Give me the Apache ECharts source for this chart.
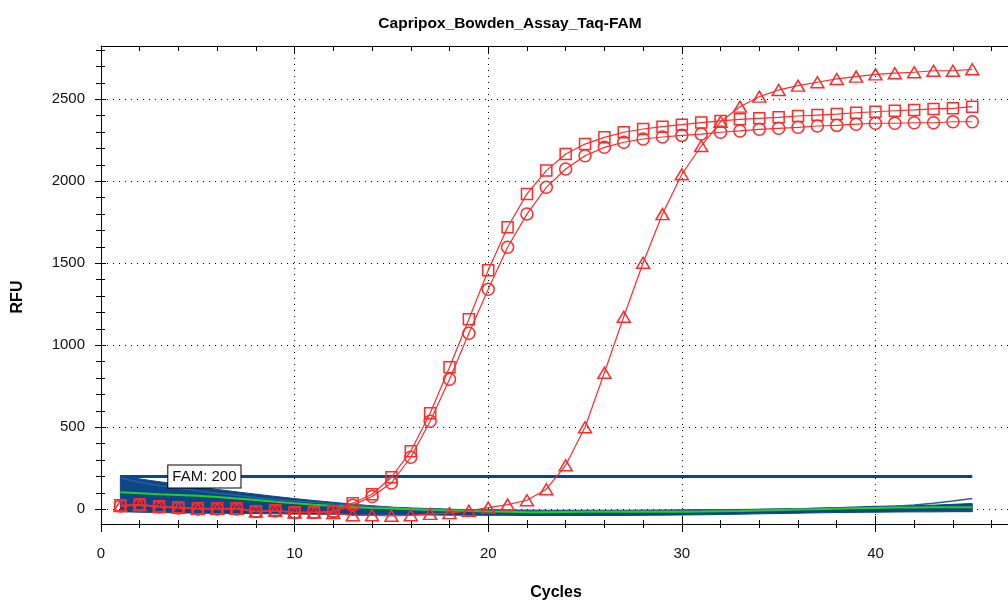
<!DOCTYPE html>
<html>
<head>
<meta charset="utf-8">
<script src="https://cdn.jsdelivr.net/npm/echarts@6/dist/echarts.min.js"></script>
<style>
  html, body { margin: 0; padding: 0; background: #fff; }
  #chart { width: 1008px; height: 602px; }
</style>
</head>
<body>
<div id="chart"></div>
<script>
// cycles 1..45
const cycles = [1,2,3,4,5,6,7,8,9,10,11,12,13,14,15,16,17,18,19,20,21,22,23,24,25,26,27,28,29,30,31,32,33,34,35,36,37,38,39,40,41,42,43,44,45];

// red sample curves (RFU)
const sampleSquare = [24,30,18,12,6,6,6,-12,-6,-18,-18,-12,37,91,195,354,585,866,1159,1457,1720,1923,2065,2166,2227,2268,2299,2319,2333,2345,2358,2368,2378,2384,2390,2398,2404,2410,2418,2424,2430,2435,2441,2445,2455];
const sampleCircle = [20,26,14,8,2,2,2,-14,-10,-20,-20,-16,25,78,160,317,537,793,1073,1341,1598,1800,1963,2075,2156,2207,2238,2258,2270,2280,2288,2299,2307,2317,2323,2329,2337,2341,2348,2354,2354,2357,2357,2363,2363];
const sampleTriangle = [20,24,14,8,2,2,2,-14,-10,-20,-20,-24,-37,-37,-40,-37,-28,-24,-10,10,28,55,122,268,500,832,1174,1503,1800,2043,2215,2363,2455,2516,2557,2583,2604,2624,2638,2652,2659,2665,2674,2674,2683];

// negative / background curves (blue bundle envelope, green curve, one rising blue trace)
const bundleTop = [205,185,168,152,136,121,106,92,78,65,53,42,31,21,13,8,4,0,-2,-3,-4,-5,-6,-6,-6,-6,-6,-6,-5,-4,-3,-2,-1,0,2,4,7,10,14,18,20,22,25,30,35];
const bundleBottom = [-15,-18,-20,-22,-24,-25,-26,-27,-28,-29,-30,-31,-32,-33,-34,-35,-35,-36,-36,-37,-37,-38,-38,-38,-38,-38,-38,-37,-36,-35,-34,-32,-30,-28,-26,-24,-22,-20,-19,-18,-17,-16,-16,-15,-15];
const greenCurve = [104,98,92,87,82,74,66,57,46,36,28,21,14,8,4,0,-4,-8,-11,-14,-16,-18,-18,-17,-16,-15,-15,-15,-15,-15,-14,-12,-10,-7,-4,-2,0,3,6,8,10,11,12,12,12];
const risingTrace = [190,165,145,128,112,98,85,72,60,50,42,34,26,18,10,5,2,-2,-4,-6,-8,-9,-10,-10,-10,-10,-9,-8,-7,-6,-5,-4,-3,-2,0,2,4,6,8,12,18,26,36,50,66];

// threshold
const thresholdValue = 200;
const thresholdLabel = 'FAM: 200';
const thresholdLabelCycle = 5.34;

// axis ticks
const xMajor = [0, 10, 20, 30, 40];
const xMinor = [2, 4, 6, 8, 12, 14, 16, 18, 22, 24, 26, 28, 32, 34, 36, 38, 42, 44, 46];
const yMajor = [0, 500, 1000, 1500, 2000, 2500];
const yMinor = [100, 200, 300, 400, 600, 700, 800, 900, 1100, 1200, 1300, 1400, 1600, 1700, 1800, 1900, 2100, 2200, 2300, 2400, 2600, 2700, 2800];

const X_MIN = 0, X_MAX = 47;
const Y_MIN = -90, Y_MAX = 2825;

const FONT = "'Liberation Sans', Arial, sans-serif";
const RED = '#ff2a2a';
const BLUE = '#0c4686';

const pairs = arr => cycles.map((c, i) => [c, arr[i]]);

function xAx(position, inside, ticks, len, extra) {
  return Object.assign({
    type: 'value', position: position, min: X_MIN, max: X_MAX,
    axisLine: { show: false, onZero: false },
    axisTick: { show: true, inside: inside, length: len, customValues: ticks, lineStyle: { color: '#000', width: 1 } },
    axisLabel: { show: false },
    splitLine: { show: false }
  }, extra || {});
}
function yAx(inside, ticks, len, extra) {
  return Object.assign({
    type: 'value', position: 'left', min: Y_MIN, max: Y_MAX,
    axisLine: { show: false, onZero: false },
    axisTick: { show: true, inside: inside, length: len, customValues: ticks, lineStyle: { color: '#000', width: 1 } },
    axisLabel: { show: false },
    splitLine: { show: false }
  }, extra || {});
}

const dotted = { show: true, lineStyle: { color: '#000', width: 1, type: [1, 5] } };

// filled envelope of the blue bundle, drawn segment by segment through the axes
function renderBundle(params, api) {
  const i = params.dataIndex;
  if (i >= cycles.length - 1) return null;
  const pts = [
    api.coord([cycles[i], bundleTop[i]]),
    api.coord([cycles[i + 1], bundleTop[i + 1]]),
    api.coord([cycles[i + 1], bundleBottom[i + 1]]),
    api.coord([cycles[i], bundleBottom[i]])
  ];
  return {
    type: 'polygon',
    shape: { points: pts },
    style: { fill: BLUE, stroke: BLUE, lineWidth: 1 }
  };
}

const chart = echarts.init(document.getElementById('chart'));
chart.setOption({
  animation: false,
  backgroundColor: '#fff',
  title: {
    text: 'Capripox_Bowden_Assay_Taq-FAM',
    left: 505, top: 11, textAlign: 'center',
    textStyle: { fontFamily: FONT, fontSize: 15.5, fontWeight: 'bold', color: '#000' }
  },
  grid: { left: 101, right: -3, top: 46, bottom: 78, outerBoundsMode: 'none', containLabel: false },
  xAxis: [
    xAx('bottom', false, xMajor, 8, {
      axisLine: { show: true, onZero: false, lineStyle: { color: '#000', width: 1 } },
      axisLabel: { show: true, customValues: xMajor, margin: 22, fontSize: 15, fontFamily: FONT, color: '#111' },
      splitLine: dotted,
      name: 'Cycles', nameLocation: 'middle', nameGap: 61,
      nameTextStyle: { fontFamily: FONT, fontSize: 16, fontWeight: 'bold', color: '#000' }
    }),
    xAx('bottom', true, xMajor, 8),
    xAx('bottom', false, xMinor, 4),
    xAx('bottom', true, xMinor, 4),
    xAx('top', true, xMajor, 8, { axisLine: { show: true, onZero: false, lineStyle: { color: '#000', width: 1 } } }),
    xAx('top', true, xMinor, 5)
  ],
  yAxis: [
    yAx(false, yMajor, 6, {
      axisLine: { show: true, onZero: false, lineStyle: { color: '#000', width: 1 } },
      axisLabel: { show: true, customValues: yMajor, margin: 16, fontSize: 15, fontFamily: FONT, color: '#111',
        formatter: v => String(v) },
      splitLine: dotted,
      name: 'RFU', nameLocation: 'middle', nameGap: 75,
      nameTextStyle: { fontFamily: FONT, fontSize: 16, fontWeight: 'bold', color: '#000', padding: [0, 24, 0, 0] }
    }),
    yAx(true, yMajor, 5),
    yAx(false, yMinor, 5),
    yAx(true, yMinor, 4)
  ],
  series: [
    {
      name: 'bundle', type: 'custom', renderItem: renderBundle,
      data: cycles.map((c, i) => [c, bundleTop[i], bundleBottom[i]]),
      encode: { x: 0, y: [1, 2] }, z: 2, silent: true
    },
    {
      name: 'rising', type: 'line', data: pairs(risingTrace), symbol: 'none',
      lineStyle: { color: '#2a5ea0', width: 1.5 }, z: 3
    },
    {
      name: 'green', type: 'line', data: pairs(greenCurve), symbol: 'none',
      lineStyle: { color: '#1fd21f', width: 2 }, z: 4
    },
    {
      name: 'threshold', type: 'line',
      data: [[cycles[0], thresholdValue], [cycles[cycles.length - 1], thresholdValue]],
      symbol: 'none', lineStyle: { color: BLUE, width: 3 }, z: 5,
      markPoint: {
        z: 20,
        symbol: 'rect', symbolSize: 1, itemStyle: { color: 'rgba(0,0,0,0)' },
        data: [{ coord: [thresholdLabelCycle, thresholdValue] }],
        label: {
          show: true, position: 'inside', formatter: thresholdLabel,
          fontFamily: FONT, fontSize: 15, color: '#111',
          backgroundColor: '#fff', borderColor: '#000', borderWidth: 1, padding: [4, 4, 3, 4]
        }
      }
    },
    {
      name: 'square', type: 'line', data: pairs(sampleSquare),
      symbol: 'rect', symbolSize: 11, showAllSymbol: true,
      itemStyle: { color: 'rgba(255,255,255,0)', borderColor: RED, borderWidth: 1.5 },
      lineStyle: { color: RED, width: 1.2 }, z: 6
    },
    {
      name: 'circle', type: 'line', data: pairs(sampleCircle),
      symbol: 'circle', symbolSize: 12, showAllSymbol: true,
      itemStyle: { color: 'rgba(255,255,255,0)', borderColor: RED, borderWidth: 1.5 },
      lineStyle: { color: RED, width: 1.2 }, z: 6
    },
    {
      name: 'triangle', type: 'line', data: pairs(sampleTriangle),
      symbol: 'triangle', symbolSize: [13, 11], showAllSymbol: true,
      itemStyle: { color: 'rgba(255,255,255,0)', borderColor: RED, borderWidth: 1.5 },
      lineStyle: { color: RED, width: 1.2 }, z: 6
    }
  ]
});
</script>
</body>
</html>
